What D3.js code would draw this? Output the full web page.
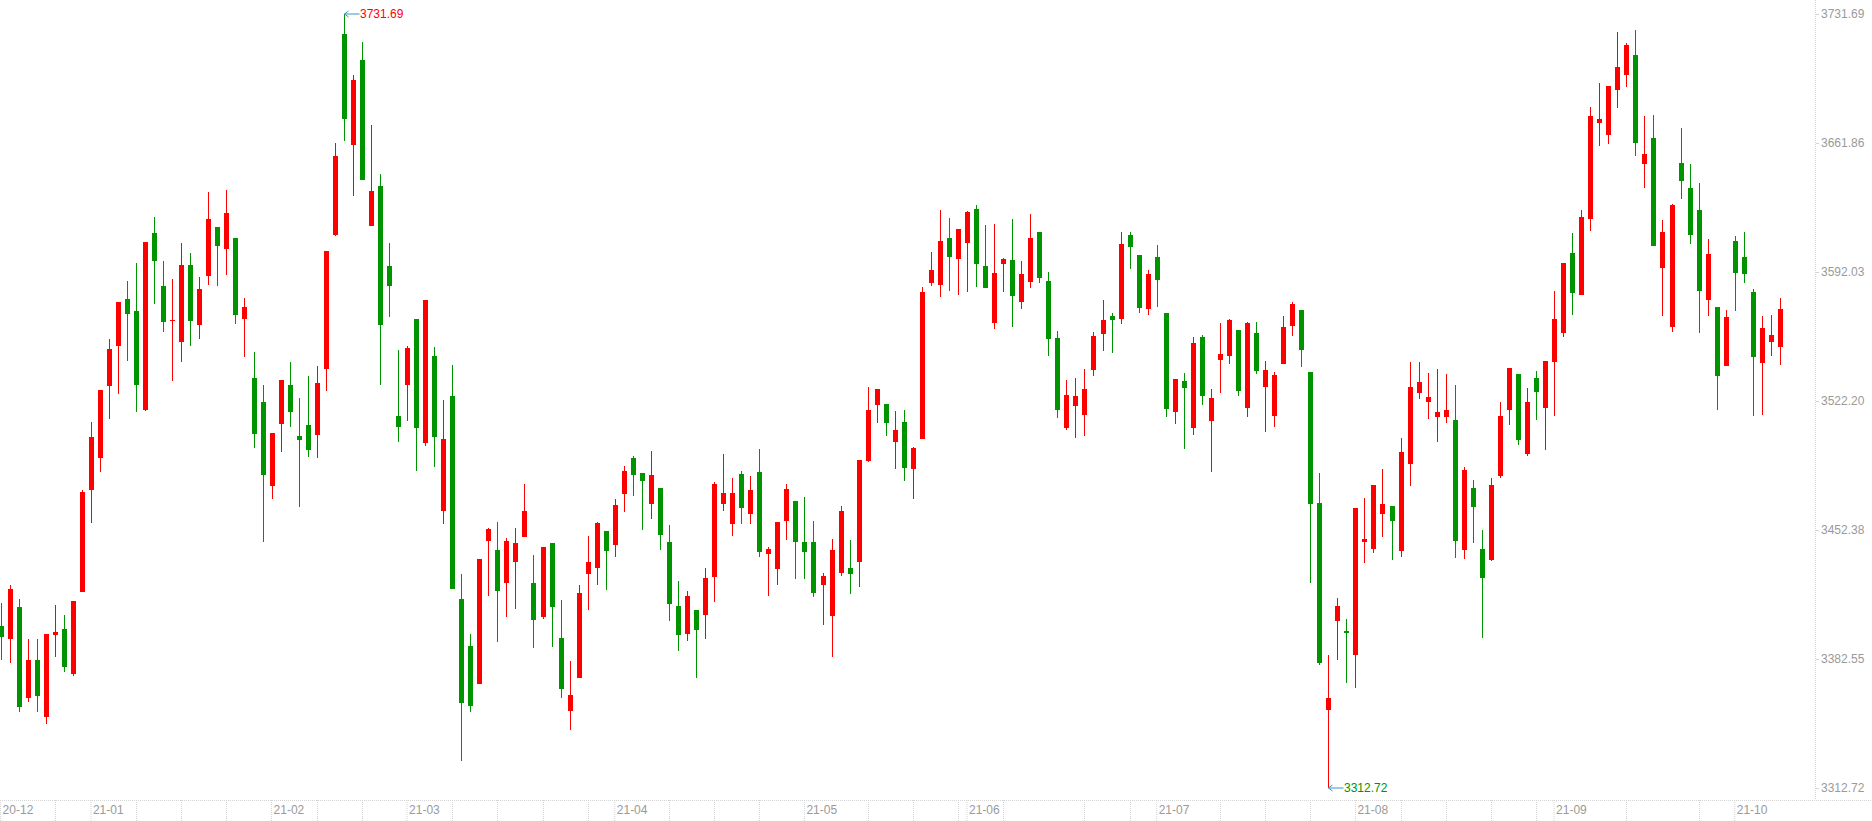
<!DOCTYPE html>
<html>
<head>
<meta charset="utf-8">
<script src="https://cdn.jsdelivr.net/npm/d3@7/dist/d3.min.js"></script>
<style>
  body { margin: 0; background: #fff; }
  svg { display: block; font-family: "Liberation Sans", Arial, sans-serif; }
</style>
</head>
<body>
<div id="chart"></div>
<script>

// daily candles, one array per month: [day, open, high, low, close]
var dec20 = [
    [18, 3400.4, 3413.1, 3382.2, 3394.2], [21, 3393.6, 3422.6, 3380.6, 3420.5],
    [22, 3410.6, 3415.1, 3353.6, 3356.3], [23, 3361.7, 3393.4, 3359.4, 3382.0],
    [24, 3382.0, 3393.4, 3353.6, 3362.7], [25, 3351.3, 3396.1, 3347.6, 3396.1],
    [28, 3395.7, 3411.8, 3383.4, 3397.1], [29, 3398.8, 3406.4, 3375.6, 3378.3],
    [30, 3374.5, 3413.9, 3373.5, 3413.9], [31, 3418.9, 3474.0, 3418.9, 3472.9]
];
var jan21 = [
    [4, 3474.0, 3510.8, 3456.4, 3502.7], [5, 3491.6, 3528.2, 3483.9, 3528.2],
    [6, 3530.5, 3555.8, 3512.7, 3550.4], [7, 3552.1, 3575.7, 3526.2, 3575.7],
    [8, 3577.5, 3587.1, 3544.0, 3569.5], [11, 3570.9, 3597.0, 3516.4, 3531.1],
    [12, 3517.5, 3608.2, 3516.9, 3608.2], [13, 3613.2, 3621.7, 3574.9, 3598.1],
    [14, 3584.4, 3598.0, 3559.3, 3565.1], [15, 3565.7, 3588.3, 3533.2, 3566.0],
    [18, 3554.3, 3607.8, 3543.4, 3595.8], [19, 3595.8, 3602.4, 3552.1, 3565.7],
    [20, 3563.5, 3589.3, 3556.0, 3582.9], [21, 3590.0, 3635.3, 3585.2, 3620.8],
    [22, 3616.3, 3616.3, 3584.6, 3606.3], [25, 3604.7, 3636.4, 3590.6, 3624.0],
    [26, 3610.5, 3610.5, 3564.1, 3569.0], [27, 3566.8, 3578.0, 3545.8, 3573.0],
    [28, 3534.7, 3548.6, 3496.5, 3504.6], [29, 3521.6, 3530.9, 3446.0, 3482.3]
];
var feb21 = [
    [1, 3476.3, 3505.0, 3469.4, 3505.0], [2, 3510.0, 3533.6, 3494.7, 3533.6],
    [3, 3530.9, 3543.2, 3507.9, 3516.4], [4, 3503.2, 3523.9, 3464.9, 3501.3],
    [5, 3509.2, 3535.7, 3492.0, 3495.9], [8, 3503.8, 3541.2, 3491.4, 3531.8],
    [9, 3539.4, 3603.4, 3527.8, 3603.4], [10, 3612.1, 3661.7, 3611.5, 3654.8],
    [18, 3720.9, 3731.69, 3663.1, 3674.7], [19, 3660.9, 3698.5, 3633.3, 3696.0],
    [22, 3706.8, 3716.5, 3642.0, 3642.0], [23, 3617.1, 3671.6, 3617.1, 3635.9],
    [24, 3638.6, 3645.1, 3530.9, 3563.5], [25, 3595.3, 3607.7, 3567.8, 3584.6],
    [26, 3514.1, 3549.8, 3500.2, 3508.3]
];
var mar21 = [
    [1, 3530.9, 3552.0, 3511.5, 3550.9], [2, 3566.6, 3566.6, 3484.5, 3507.8],
    [3, 3499.6, 3576.9, 3498.0, 3576.9], [4, 3546.6, 3551.4, 3486.5, 3502.9],
    [5, 3462.8, 3522.7, 3455.8, 3501.6], [8, 3524.9, 3541.7, 3420.4, 3420.4],
    [9, 3415.0, 3428.5, 3327.5, 3358.9], [10, 3389.6, 3396.1, 3354.0, 3357.3],
    [11, 3369.2, 3436.7, 3369.2, 3436.7], [12, 3446.6, 3453.5, 3416.8, 3452.9],
    [15, 3441.6, 3456.7, 3391.9, 3419.5], [16, 3423.9, 3448.0, 3405.5, 3446.4],
    [17, 3435.2, 3453.5, 3409.6, 3445.3], [18, 3448.8, 3477.3, 3448.8, 3462.7],
    [19, 3423.7, 3438.8, 3388.7, 3403.8], [22, 3405.5, 3443.2, 3404.0, 3443.2],
    [23, 3445.3, 3445.3, 3389.2, 3410.9], [24, 3393.9, 3414.5, 3361.6, 3366.5],
    [25, 3354.6, 3381.5, 3344.3, 3363.1], [26, 3372.4, 3422.6, 3372.4, 3418.3],
    [29, 3428.7, 3449.1, 3409.2, 3435.0], [30, 3432.0, 3456.9, 3422.8, 3456.2],
    [31, 3451.8, 3451.8, 3420.1, 3441.2]
];
var apr21 = [
    [1, 3444.4, 3469.3, 3437.9, 3465.9], [2, 3472.0, 3487.0, 3462.3, 3484.3],
    [6, 3491.3, 3492.4, 3471.0, 3482.3], [7, 3483.0, 3483.0, 3452.5, 3479.0],
    [8, 3466.6, 3495.1, 3458.3, 3482.1], [9, 3475.1, 3475.1, 3441.7, 3449.8],
    [12, 3445.9, 3455.1, 3403.3, 3412.5], [13, 3411.2, 3424.8, 3387.0, 3395.7],
    [14, 3396.3, 3419.4, 3392.4, 3416.6], [15, 3409.1, 3409.1, 3372.4, 3398.4],
    [16, 3406.5, 3431.8, 3393.5, 3426.4], [19, 3427.1, 3478.4, 3413.5, 3477.3],
    [20, 3466.6, 3493.5, 3462.8, 3472.4], [21, 3455.8, 3480.5, 3449.3, 3472.4],
    [22, 3482.7, 3484.3, 3455.8, 3464.5], [23, 3461.2, 3481.6, 3455.8, 3474.0],
    [26, 3483.8, 3496.2, 3437.9, 3440.6], [27, 3439.5, 3443.2, 3416.8, 3442.1],
    [28, 3431.4, 3456.7, 3422.8, 3456.7], [29, 3457.4, 3477.3, 3447.1, 3474.5],
    [30, 3468.0, 3468.0, 3426.0, 3446.0]
];
var may21 = [
    [6, 3445.9, 3470.2, 3426.0, 3440.6], [7, 3445.9, 3457.2, 3416.3, 3418.4],
    [10, 3422.8, 3429.1, 3401.1, 3427.5], [11, 3406.0, 3447.5, 3383.8, 3441.5],
    [12, 3429.3, 3465.4, 3427.6, 3462.6], [13, 3431.8, 3446.9, 3417.9, 3428.7],
    [14, 3435.2, 3490.2, 3421.7, 3490.2], [17, 3489.9, 3529.8, 3489.4, 3517.3],
    [18, 3520.2, 3528.7, 3510.5, 3528.7], [19, 3520.6, 3520.6, 3503.4, 3510.5],
    [20, 3500.2, 3516.8, 3485.6, 3506.5], [21, 3510.8, 3517.3, 3479.0, 3486.1],
    [24, 3485.6, 3497.3, 3469.3, 3496.8], [25, 3501.6, 3583.9, 3501.6, 3581.2],
    [26, 3586.3, 3602.9, 3584.6, 3593.1], [27, 3585.1, 3625.6, 3578.7, 3608.8],
    [28, 3610.4, 3621.3, 3581.9, 3600.3], [31, 3599.2, 3615.3, 3579.8, 3615.3]
];
var jun21 = [
    [1, 3607.9, 3625.0, 3581.4, 3624.5], [2, 3626.1, 3628.3, 3584.1, 3596.5],
    [3, 3595.3, 3617.5, 3583.5, 3583.5], [4, 3564.6, 3618.0, 3561.4, 3591.5],
    [7, 3596.4, 3599.6, 3581.4, 3599.1], [8, 3598.5, 3620.7, 3562.4, 3579.2],
    [9, 3576.0, 3598.0, 3572.2, 3590.9], [10, 3586.8, 3623.4, 3583.5, 3610.4],
    [11, 3613.7, 3613.7, 3586.3, 3589.0], [15, 3587.1, 3592.0, 3546.7, 3555.9],
    [16, 3556.3, 3560.1, 3513.2, 3517.5], [17, 3507.8, 3533.6, 3506.7, 3525.4],
    [18, 3519.7, 3534.6, 3502.3, 3524.9], [21, 3514.8, 3539.5, 3503.4, 3528.7],
    [22, 3539.2, 3559.5, 3535.9, 3557.4], [23, 3558.6, 3576.9, 3549.4, 3566.0],
    [24, 3568.2, 3569.8, 3548.4, 3566.2], [25, 3566.8, 3613.7, 3564.0, 3607.2],
    [28, 3612.0, 3613.7, 3593.8, 3605.7], [29, 3601.2, 3601.2, 3570.0, 3572.7],
    [30, 3572.2, 3593.1, 3568.9, 3590.9]
];
var jul21 = [
    [1, 3600.1, 3606.6, 3573.3, 3587.9], [2, 3569.8, 3569.8, 3513.7, 3518.0],
    [5, 3516.4, 3534.1, 3509.9, 3534.1], [6, 3533.0, 3537.3, 3496.4, 3529.4],
    [7, 3507.8, 3556.8, 3504.0, 3553.6], [8, 3556.8, 3557.9, 3520.2, 3525.1],
    [9, 3511.5, 3528.7, 3484.0, 3523.8], [12, 3544.5, 3564.4, 3526.7, 3547.6],
    [13, 3546.7, 3566.6, 3542.4, 3566.1], [14, 3560.6, 3560.6, 3525.1, 3527.8],
    [15, 3518.6, 3565.0, 3513.7, 3564.4], [16, 3559.0, 3565.0, 3537.0, 3538.6],
    [19, 3529.9, 3543.9, 3505.6, 3539.0], [20, 3514.3, 3537.9, 3508.3, 3536.3],
    [21, 3542.4, 3568.2, 3542.4, 3562.3], [22, 3563.0, 3575.8, 3557.6, 3574.7],
    [23, 3571.5, 3571.5, 3540.8, 3550.0], [26, 3537.9, 3537.9, 3423.9, 3466.6],
    [27, 3467.0, 3483.2, 3379.5, 3380.6], [28, 3355.1, 3384.7, 3312.72, 3361.4],
    [29, 3403.3, 3415.6, 3382.2, 3411.2], [30, 3397.5, 3404.2, 3369.7, 3396.8]
];
var aug21 = [
    [2, 3384.9, 3464.3, 3367.0, 3464.3], [3, 3446.1, 3469.9, 3434.7, 3447.5],
    [4, 3442.3, 3476.7, 3440.1, 3476.7], [5, 3461.2, 3485.6, 3448.8, 3466.4],
    [6, 3465.4, 3465.4, 3436.3, 3457.4], [9, 3441.2, 3502.2, 3437.9, 3494.6],
    [10, 3488.3, 3543.3, 3476.4, 3529.8], [11, 3526.7, 3543.3, 3523.5, 3532.5],
    [12, 3521.8, 3537.4, 3512.6, 3524.4], [13, 3513.7, 3539.5, 3500.2, 3516.3],
    [16, 3513.7, 3536.8, 3510.5, 3517.3], [17, 3511.9, 3530.9, 3437.4, 3446.6],
    [18, 3441.7, 3486.5, 3436.9, 3484.9], [19, 3475.1, 3479.4, 3445.5, 3465.0],
    [20, 3442.1, 3452.4, 3394.1, 3426.6], [23, 3436.3, 3480.5, 3435.8, 3476.7],
    [24, 3481.8, 3521.7, 3480.7, 3514.1], [25, 3517.5, 3540.1, 3509.4, 3540.1],
    [26, 3536.8, 3536.8, 3498.6, 3501.3], [27, 3493.5, 3529.2, 3492.6, 3521.7],
    [30, 3534.6, 3538.4, 3512.1, 3527.3], [31, 3518.6, 3543.8, 3495.9, 3543.8]
];
var sep21 = [
    [1, 3543.5, 3581.7, 3514.3, 3566.6], [2, 3559.2, 3596.9, 3557.0, 3596.9],
    [3, 3602.3, 3613.1, 3568.9, 3580.8], [6, 3579.8, 3625.6, 3579.8, 3621.8],
    [7, 3620.9, 3681.3, 3614.4, 3676.5], [8, 3672.9, 3694.3, 3660.4, 3674.8],
    [9, 3666.4, 3692.7, 3661.5, 3692.7], [10, 3690.7, 3721.9, 3681.0, 3703.0],
    [13, 3698.8, 3716.0, 3692.4, 3714.9], [14, 3709.5, 3723.0, 3655.0, 3662.0],
    [15, 3650.7, 3676.5, 3637.7, 3655.9], [16, 3664.6, 3677.0, 3606.3, 3606.3],
    [17, 3594.4, 3620.2, 3568.4, 3613.7], [22, 3562.4, 3628.8, 3559.7, 3628.3],
    [23, 3651.0, 3669.9, 3631.7, 3641.5], [24, 3637.5, 3650.5, 3607.4, 3612.2],
    [27, 3625.6, 3640.2, 3559.2, 3581.9], [28, 3577.0, 3609.9, 3568.4, 3601.8],
    [29, 3573.1, 3573.1, 3517.5, 3535.9], [30, 3541.3, 3571.5, 3541.3, 3567.7]
];
var oct21 = [
    [8, 3608.8, 3611.5, 3571.1, 3591.7], [11, 3600.1, 3613.7, 3586.3, 3591.1],
    [12, 3581.2, 3582.8, 3514.3, 3546.2], [13, 3543.0, 3568.2, 3514.8, 3561.7],
    [14, 3554.3, 3568.8, 3546.7, 3557.9], [15, 3551.6, 3577.9, 3541.9, 3572.0]
];

var monthRows   = [dec20, jan21, feb21, mar21, apr21, may21, jun21, jul21, aug21, sep21, oct21];
var monthLabels = ['20-12', '21-01', '21-02', '21-03', '21-04', '21-05',
                   '21-06', '21-07', '21-08', '21-09', '21-10'];
var monthYears  = [2020, 2021, 2021, 2021, 2021, 2021, 2021, 2021, 2021, 2021, 2021];
var monthNums   = [12, 1, 2, 3, 4, 5, 6, 7, 8, 9, 10];

var yTicks = [3312.72, 3382.55, 3452.38, 3522.20, 3592.03, 3661.86, 3731.69];


var chart = {
    svgWidth: 1872,
    svgHeight: 821,
    plotRight: 1816,
    axisY: 800,
    yTop: 14,
    yBottom: 788,
    slots: 201,
    bodyWidth: 5,
    upColor: '#ff0000',
    downColor: '#009400',
    gridColor: '#d4d4d4',
    labelColor: '#9a9a9a',
    markColor: '#3f93c2'
};

// flatten the months into one candle list
var candles = [];
var monthStarts = [];
monthRows.forEach(function(rows, m) {
    monthStarts.push(candles.length);
    rows.forEach(function(r) {
        candles.push({
            i: candles.length,
            date: new Date(monthYears[m], monthNums[m] - 1, r[0]),
            open: r[1], high: r[2], low: r[3], close: r[4]
        });
    });
});

var svg = d3.select('#chart').append('svg')
    .attr('width', chart.svgWidth)
    .attr('height', chart.svgHeight);

var xScale = d3.scaleBand()
    .domain(d3.range(chart.slots))
    .range([-3.9, 1811.5])
    .padding(0);

var yScale = d3.scaleLinear()
    .domain([d3.min(candles, d => d.low), d3.max(candles, d => d.high)])
    .range([chart.yBottom, chart.yTop]);

function cx(i) {
    return Math.round(xScale(i) + xScale.bandwidth() / 2);
}

// frame lines
svg.append('line')
    .attr('x1', 0).attr('x2', chart.svgWidth)
    .attr('y1', chart.axisY + 0.5).attr('y2', chart.axisY + 0.5)
    .attr('stroke', chart.gridColor)
    .attr('stroke-dasharray', '1,1');

svg.append('line')
    .attr('x1', chart.plotRight - 0.5).attr('x2', chart.plotRight - 0.5)
    .attr('y1', 0).attr('y2', chart.axisY)
    .attr('stroke', chart.gridColor)
    .attr('stroke-dasharray', '1,1');

// candles
var plot = svg.append('g')
    .attr('shape-rendering', 'crispEdges');

var candle = plot.selectAll('g.candle')
    .data(candles)
    .enter().append('g')
    .attr('class', 'candle')
    .attr('fill', d => d.close >= d.open ? chart.upColor : chart.downColor);

candle.append('rect')
    .attr('x', d => cx(d.i))
    .attr('width', 1)
    .attr('y', d => yScale(d.high))
    .attr('height', d => Math.max(1, yScale(d.low) - yScale(d.high)));

candle.append('rect')
    .attr('x', d => cx(d.i) - (chart.bodyWidth - 1) / 2)
    .attr('width', chart.bodyWidth)
    .attr('y', d => yScale(Math.max(d.open, d.close)))
    .attr('height', d => Math.max(1, Math.abs(yScale(d.open) - yScale(d.close))));

// month axis
var xAxis = d3.axisBottom(xScale)
    .tickValues(monthStarts)
    .tickFormat((d, k) => monthLabels[k])
    .tickSize(chart.svgHeight - chart.axisY)
    .tickSizeOuter(0);

var xAxisG = svg.append('g')
    .attr('class', 'xAxis')
    .attr('transform', 'translate(0,' + chart.axisY + ')')
    .call(xAxis);

xAxisG.select('.domain').remove();
xAxisG.selectAll('.tick line')
    .attr('stroke', chart.gridColor)
    .attr('stroke-dasharray', '1,1');
xAxisG.selectAll('.tick text')
    .attr('x', 2)
    .attr('y', 14)
    .attr('dy', null)
    .attr('text-anchor', 'start')
    .attr('font-size', 12)
    .attr('font-family', '"Liberation Sans", Arial, sans-serif')
    .attr('fill', chart.labelColor);

// weekly marks on mondays, skipped where a month label sits
var mondays = candles.filter(function(d) {
    if (d.date.getDay() != 1 || monthStarts.includes(d.i)) { return false; };
    var near = monthStarts.some(m => d.i > m && cx(d.i) - cx(m) < 32);
    return !near;
});

svg.selectAll('line.week')
    .data(mondays)
    .enter().append('line')
    .attr('class', 'week')
    .attr('x1', d => cx(d.i) + 0.5).attr('x2', d => cx(d.i) + 0.5)
    .attr('y1', chart.axisY).attr('y2', chart.svgHeight)
    .attr('stroke', chart.gridColor)
    .attr('stroke-dasharray', '1,1');

// price axis on the right
var yAxis = d3.axisRight(yScale)
    .tickValues(yTicks)
    .tickFormat(d3.format('.2f'))
    .tickSize(3)
    .tickPadding(2);

var yAxisG = svg.append('g')
    .attr('class', 'yAxis')
    .attr('transform', 'translate(' + chart.plotRight + ', 0)')
    .call(yAxis);

yAxisG.select('.domain').remove();
yAxisG.selectAll('.tick line')
    .attr('stroke', chart.gridColor);
yAxisG.selectAll('.tick text')
    .attr('font-size', 12)
    .attr('font-family', '"Liberation Sans", Arial, sans-serif')
    .attr('fill', chart.labelColor);

// high / low markers
var hi = candles.reduce((a, b) => b.high > a.high ? b : a);
var lo = candles.reduce((a, b) => b.low < a.low ? b : a);

var marks = [
    {x: cx(hi.i) + 0.5, y: yScale(hi.high), text: d3.format('.2f')(hi.high), color: chart.upColor},
    {x: cx(lo.i) + 0.5, y: yScale(lo.low), text: d3.format('.2f')(lo.low), color: chart.downColor}
];

var mark = svg.selectAll('g.extreme')
    .data(marks)
    .enter().append('g')
    .attr('class', 'extreme');

mark.append('path')
    .attr('d', d => 'M' + (d.x + 15) + ',' + d.y + 'H' + d.x
                  + 'M' + (d.x + 4) + ',' + (d.y - 3) + 'L' + d.x + ',' + d.y
                  + 'L' + (d.x + 4) + ',' + (d.y + 3))
    .attr('fill', 'none')
    .attr('stroke', chart.markColor)
    .attr('stroke-width', 1);

mark.append('text')
    .attr('x', d => d.x + 15.5)
    .attr('y', d => d.y + 4.3)
    .attr('font-size', 12)
    .attr('fill', d => d.color)
    .text(d => d.text);

</script>
</body>
</html>
